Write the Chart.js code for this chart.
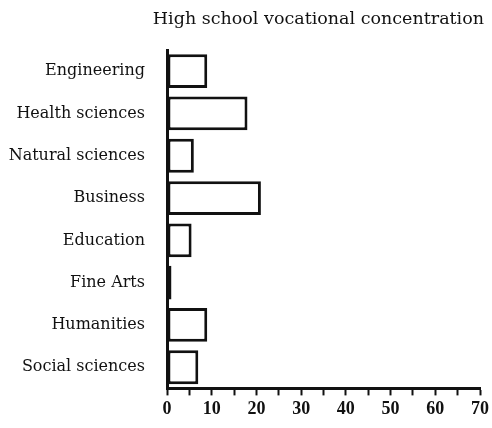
<!DOCTYPE html>
<html>
<head>
<meta charset="utf-8">
<script src="https://cdn.jsdelivr.net/npm/chart.js@4"></script>
<style>
  html, body { margin: 0; padding: 0; background: #fff; }
  #wrap { width: 492px; height: 428px; }
</style>
</head>
<body>
<div id="wrap"><canvas id="chart"></canvas></div>
<script>
const categories = ["Engineering", "Health sciences", "Natural sciences", "Business", "Education", "Fine Arts", "Humanities", "Social sciences"];
const values = [9, 18, 6, 21, 5.5, 1, 9, 7];
const tickLabels = [0, 10, 20, 30, 40, 50, 60, 70];

const serif = "'DejaVu Serif', 'Liberation Serif', serif";

new Chart(document.getElementById("chart"), {
    type: 'bar',
    data: {
        labels: categories,
        datasets: [{
            data: values,
            backgroundColor: '#fff',
            borderColor: '#111',
            borderWidth: 3,
            borderSkipped: false,
            barPercentage: 0.8,
            categoryPercentage: 1
        }]
    },
    options: {
        indexAxis: 'y',
        responsive: true,
        maintainAspectRatio: false,
        animation: false,
        layout: { padding: { left: 8, right: 8, top: 8, bottom: 5 } },
        plugins: {
            legend: { display: false },
            tooltip: { enabled: false },
            title: {
                display: true,
                align: 'end',
                text: 'High school vocational concentration',
                color: '#111',
                font: { family: serif, size: 17.5, weight: 'normal' },
                padding: { top: 1, bottom: 20 }
            }
        },
        scales: {
            x: {
                min: 0,
                max: 70,
                ticks: {
                    stepSize: 5,
                    autoSkip: false,
                    maxRotation: 0,
                    color: '#111',
                    font: { family: "'Liberation Serif', serif", size: 18, weight: 'bold' },
                    padding: 3,
                    callback: (v) => tickLabels.includes(v) ? String(v) : ''
                },
                grid: { color: 'rgba(0,0,0,0)', tickColor: '#111', tickLength: 7, tickWidth: 2, drawOnChartArea: false },
                border: { display: true, color: '#111', width: 3 }
            },
            y: {
                afterFit: (scale) => { scale.width = 159; }, // axis line lands at x=167
                ticks: {
                    color: '#111',
                    font: { family: serif, size: 16 },
                    padding: 22
                },
                grid: { display: false, drawTicks: false },
                border: { display: true, color: '#111', width: 3 }
            }
        }
    }
});
</script>
</body>
</html>
